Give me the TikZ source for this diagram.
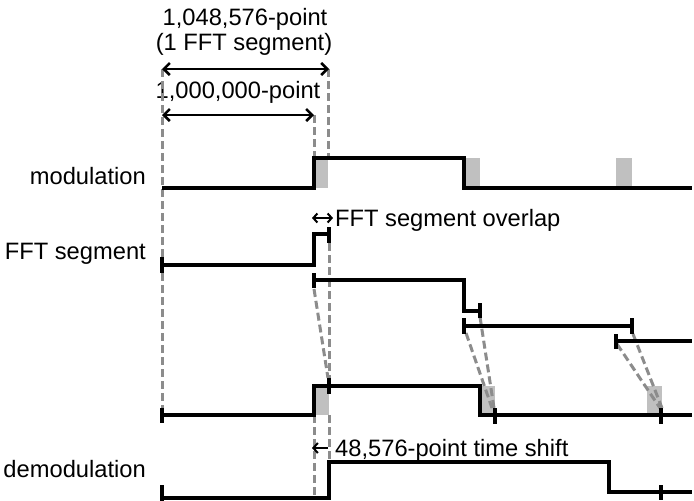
\documentclass[tikz,border=0pt]{standalone}
\usepackage{fontspec}
\setmainfont{Liberation Sans}
\usetikzlibrary{arrows.meta}
\definecolor{fillgray}{RGB}{192,192,192}
\definecolor{dashgray}{RGB}{140,140,140}
\begin{document}
\begin{tikzpicture}[x=1pt,y=-1pt,
  sig/.style={line width=3.3pt, line join=miter},
  tickmark/.style={line width=3.3pt},
  guide/.style={dashgray, line width=3pt, dash pattern=on 8pt off 4pt},
  dimarrow/.style={line width=2.5pt, {Straight Barb[length=6pt,width=12pt]}-{Straight Barb[length=6pt,width=12pt]}},
  smallarrow/.style={line width=2pt, {Straight Barb[length=4pt,width=9pt]}-{Straight Barb[length=4pt,width=9pt]}},
  leftarrow/.style={line width=2pt, {Straight Barb[length=4.5pt,width=10pt]}-},
  lbl/.style={font=\fontsize{23.7pt}{28pt}\selectfont, inner sep=0pt},
]
\useasboundingbox (0,0) rectangle (694,501);

% ---------- labels ----------
\node[lbl, anchor=base] (l1) at (245,25) {1,048,576-point};
\node[lbl, anchor=base] (l2) at (244,50) {(1 FFT segment)};
\node[lbl, anchor=base] (l3) at (238,98) {1,000,000-point};
\node[lbl, anchor=base east] (lmod) at (146,184) {modulation};
\node[lbl, anchor=base east] (lfft) at (146,259) {FFT segment};
\node[lbl, anchor=base east] (ldem) at (146,477) {demodulation};
\node[lbl, anchor=base west] (lovl) at (335,226) {FFT segment overlap};
\node[lbl, anchor=base west] (lshift) at (335,456) {48,576-point time shift};

% ---------- key coordinates ----------
\coordinate (a0) at (162,69);  \coordinate (a1) at (329,69);
\coordinate (b0) at (162,115); \coordinate (b1) at (314,115);
\coordinate (o0) at (312,218); \coordinate (o1) at (333,218);
\coordinate (s0) at (312,448); \coordinate (s1) at (328,448);

% ---------- shaded overlap regions ----------
\fill[fillgray] (314,158) rectangle (328,188);
\fill[fillgray] (464,158) rectangle (480,188);
\fill[fillgray] (616,158) rectangle (632,188);
\fill[fillgray] (314,386) rectangle (329,415);
\fill[fillgray] (480,386) rectangle (495,415);
\fill[fillgray] (647,386) rectangle (662,415);

% ---------- dashed guides ----------
\draw[guide] (162,69) -- (162,408);
\draw[guide] (314,115) -- (314,158);
\draw[guide] (328,69) -- (328,158);
\draw[guide] (314,289) -- (328,378);
\draw[guide] (329,243) -- (329,378);
\draw[guide] (466,333) -- (492,408);
\draw[guide] (480,317) -- (494,408);
\draw[guide] (617,344) -- (660,408);
\draw[guide] (633,334) -- (662,408);
\draw[guide] (314,415) -- (314,498);
\draw[guide] (329,415) -- (329,462);

% ---------- dimension arrows ----------
\draw[dimarrow] (a0) -- (a1);
\draw[dimarrow] (b0) -- (b1);
\draw[smallarrow] (o0) -- (o1);
\draw[leftarrow] (s0) -- (s1);

% ---------- modulation ----------
\draw[sig] (162,188) -- (314,188) -- (314,158) -- (464,158) -- (464,188) -- (692,188);

% ---------- FFT segments ----------
\draw[sig] (162,265) -- (314,265) -- (314,234) -- (329,234);
\draw[tickmark] (162,257) -- (162,273);
\draw[tickmark] (329,227) -- (329,243);

\draw[sig] (314,280) -- (464,280) -- (464,311) -- (480,311);
\draw[tickmark] (314,273) -- (314,288);
\draw[tickmark] (480,303) -- (480,318);

\draw[sig] (464,326) -- (632,326);
\draw[tickmark] (464,318) -- (464,334);
\draw[tickmark] (632,318) -- (632,334);

\draw[sig] (616,341) -- (692,341);
\draw[tickmark] (616,334) -- (616,349);

% ---------- FFT output row ----------
\draw[sig] (162,415) -- (314,415) -- (314,386) -- (480,386) -- (480,415) -- (692,415);
\draw[tickmark] (162,408) -- (162,423);
\draw[tickmark] (329,378) -- (329,394);
\draw[tickmark] (495,408) -- (495,424);
\draw[tickmark] (661,408) -- (661,424);

% ---------- demodulation ----------
\draw[sig] (162,498) -- (329,498) -- (329,462) -- (609,462) -- (609,492) -- (692,492);
\draw[tickmark] (162,485) -- (162,505);
\draw[tickmark] (661,485) -- (661,500);
\end{tikzpicture}
\end{document}
